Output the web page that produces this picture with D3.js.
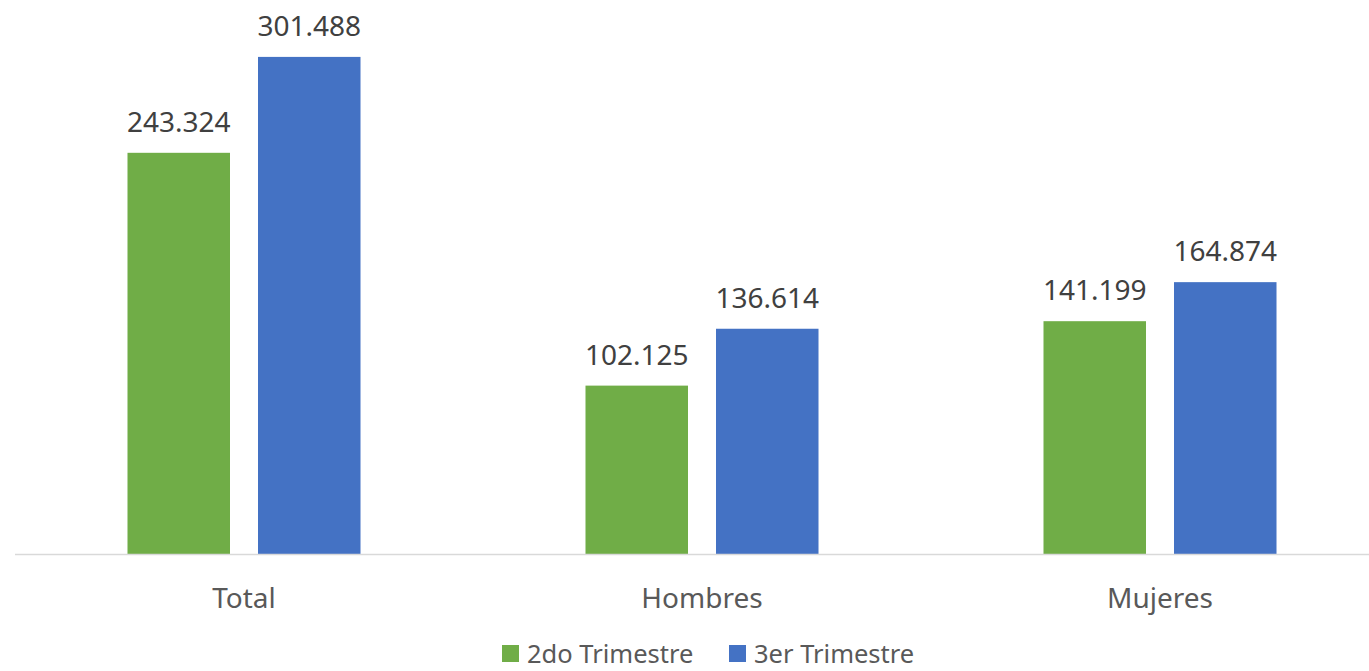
<!DOCTYPE html>
<html>
<head>
<meta charset="utf-8">
<script src="https://cdn.jsdelivr.net/npm/d3@7"></script>
<style>
  html, body { margin: 0; padding: 0; background: #fff; overflow: hidden; }
  svg { display: block; font-family: "Noto Sans", "Open Sans", sans-serif; }
</style>
</head>
<body>
<script>
const categories = ["Total", "Hombres", "Mujeres"];
const seriesNames = ["2do Trimestre", "3er Trimestre"];
const values2do = [243.324, 102.125, 141.199];
const values3er = [301.488, 136.614, 164.874];
const labels2do = ["243.324", "102.125", "141.199"];
const labels3er = ["301.488", "136.614", "164.874"];
const colors = ["#70AD47", "#4472C4"];

const W = 1369, H = 671;
const svg = d3.select("body").append("svg").attr("width", W).attr("height", H);

const x0 = d3.scaleBand().domain(categories).range([15, 1389]).paddingInner(0).paddingOuter(0);
const x1 = d3.scaleBand().domain(seriesNames).range([0, x0.bandwidth()]).paddingInner(0.2146).paddingOuter(0.862);
const y = d3.scaleLinear().domain([0, 336]).range([554, 0]);

const rows = categories.map((c, i) => ({
  cat: c,
  vals: [
    { s: seriesNames[0], v: values2do[i], label: labels2do[i], color: colors[0] },
    { s: seriesNames[1], v: values3er[i], label: labels3er[i], color: colors[1] }
  ]
}));

const g = svg.selectAll("g.cat").data(rows).enter().append("g")
  .attr("class", "cat")
  .attr("transform", d => `translate(${x0(d.cat)},0)`);

g.selectAll("rect").data(d => d.vals).enter().append("rect")
  .attr("x", d => x1(d.s))
  .attr("width", x1.bandwidth())
  .attr("y", d => y(d.v))
  .attr("height", d => y(0) - y(d.v))
  .attr("fill", d => d.color);

g.selectAll("text.val").data(d => d.vals).enter().append("text")
  .attr("class", "val")
  .attr("x", d => x1(d.s) + x1.bandwidth() / 2)
  .attr("y", d => y(d.v) - 21)
  .attr("text-anchor", "middle")
  .attr("font-size", 28)
  .attr("fill", "#404040")
  .text(d => d.label);

// axis
const xAxis = d3.axisBottom(x0).tickSize(0).tickPadding(0);
const ax = svg.append("g").attr("transform", `translate(0,${y(0) + 0.5})`).call(xAxis);
ax.select(".domain").attr("stroke", "#D9D9D9").attr("stroke-width", 1.5).attr("d", `M15,0H${W}`);
ax.selectAll(".tick text")
  .attr("font-size", 28)
  .attr("font-family", "Noto Sans, Open Sans, sans-serif")
  .attr("fill", "#595959")
  .attr("dy", 0)
  .attr("y", 53);

// legend
const legendItems = [
  { name: seriesNames[0], color: colors[0], x: 502 },
  { name: seriesNames[1], color: colors[1], x: 729 }
];
const lg = svg.selectAll("g.leg").data(legendItems).enter().append("g")
  .attr("transform", d => `translate(${d.x},0)`);
lg.append("rect").attr("x", 0).attr("y", 645).attr("width", 17).attr("height", 17).attr("fill", d => d.color);
lg.append("text").attr("x", 25).attr("y", 663).attr("font-size", 25.5).attr("fill", "#595959").text(d => d.name);
</script>
</body>
</html>
